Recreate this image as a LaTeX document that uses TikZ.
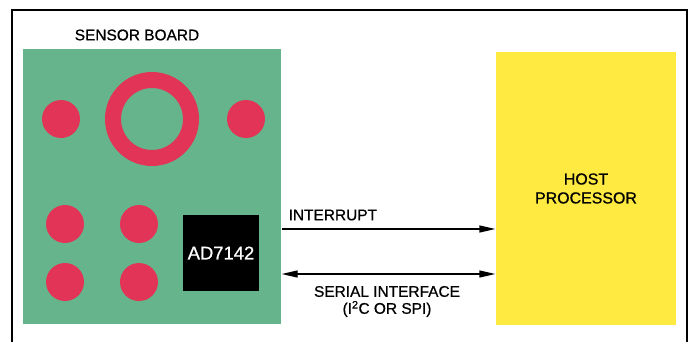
\documentclass[tikz,border=0pt]{standalone}
\usepackage{fontspec}
\setmainfont{Liberation Sans}[FakeBold=0.8]
\usetikzlibrary{arrows.meta}
\definecolor{boardgreen}{RGB}{102,180,140}
\definecolor{padred}{RGB}{226,52,86}
\definecolor{hostyellow}{RGB}{255,234,66}
\begin{document}
\begin{tikzpicture} [x = 1bp, y = -1bp, line width = 1.3bp, >= {Triangle[length = 16bp, width = 7bp]},
    pad/.style = {circle, fill = padred, minimum size = 38bp, inner sep = 0pt},
    label/.style = {inner sep = 0pt, font = \fontsize{15.5}{17}\selectfont}]
        \useasboundingbox (0,0) rectangle (699,342);
        \draw (12,342) -- (12,10) -- (687,10) -- (687,342);
        
        \node [fill = boardgreen, minimum width = 258bp, minimum height = 275bp, inner sep = 0pt] (board) at (152,186.5) {};
        \node [label] (boardlabel) at (137,35) {SENSOR BOARD};
        
        \node [circle, draw = padred, line width = 16bp, minimum size = 78bp, inner sep = 0pt] (ring) at (152,119) {};
        \node [pad] (p1) at (61,119) {};
        \node [pad] (p2) at (246,119) {};
        \node [pad] (p3) at (65,224) {};
        \node [pad] (p4) at (139,224) {};
        \node [pad] (p5) at (65,282) {};
        \node [pad] (p6) at (139,282) {};
        
        \node [fill = black, text = white, minimum size = 76bp, inner sep = 0pt, font = \fontsize{18.5}{20}\selectfont] (chip) at (221,253) {AD7142};
        
        \node [fill = hostyellow, minimum width = 180bp, minimum height = 273bp, inner sep = 0pt, align = center, font = \fontsize{16}{19}\selectfont] (host) at (586,188.5) {HOST\\PROCESSOR};
        
        \coordinate (int) at (0,229);
        \coordinate (ser) at (0,274);
        \draw [->] (board.east |- int) -- (host.west |- int);
        \draw [<->] (board.east |- ser) -- (host.west |- ser);
        
        \node [label, anchor = west] (intlabel) at (288,215) {INTERRUPT};
        \node [label, align = center] (serlabel) at (387,301.5) {SERIAL INTERFACE\\(I\textsuperscript{2}C OR SPI)};
        
    \end{tikzpicture}
\end{document}
